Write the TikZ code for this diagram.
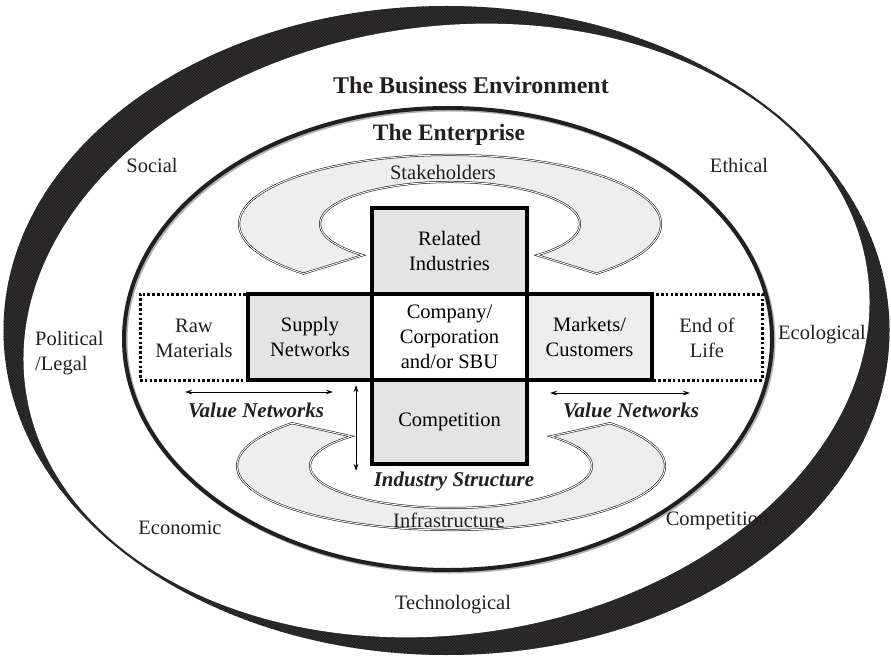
\documentclass[tikz,border=0pt]{standalone}
\usepackage{fontspec}
\setmainfont{Liberation Serif}
\usetikzlibrary{arrows.meta,patterns}
\definecolor{ringc}{HTML}{231F20}
\definecolor{bandc}{HTML}{EEEEEF}
\definecolor{boxc}{HTML}{E4E4E5}
\definecolor{boxl}{HTML}{EEEEEF}
\begin{document}
\begin{tikzpicture}[x=1pt,y=1pt,
  lbl/.style={font=\fontsize{20.5}{25}\selectfont, align=center, inner sep=0pt, text=ringc},
  ttl/.style={font=\bfseries\fontsize{24}{28}\selectfont, inner sep=0pt, text=ringc},
  itl/.style={font=\bfseries\itshape\fontsize{21}{25}\selectfont, inner sep=0pt, text=ringc},
  band/.style={fill=bandc, draw=black, line width=0.5pt, double=white, double distance=1pt},
  cbox/.style={draw=black, line width=3.5pt, minimum height=86pt, anchor=south west, outer sep=0pt, inner sep=0pt, align=center, font=\fontsize{20.5}{25}\selectfont},
  dotbox/.style={draw=black, line width=3pt, dash pattern=on 2.6pt off 2.2pt, anchor=south west, outer sep=0pt, inner sep=0pt},
  dbl/.style={{Stealth[length=7pt,width=4.5pt]}-{Stealth[length=7pt,width=4.5pt]}, line width=0.8pt},
]
\useasboundingbox (0,0) rectangle (891,657);

% outer ring (business environment)
\fill[ringc] (446.5,326.5) ellipse [x radius=443, y radius=324.5];
\fill[pattern=north west lines, pattern color=black!78] (446.5,326.5) ellipse [x radius=443, y radius=324.5];
\fill[white, rotate around={8:(446.5,326.5)}] (446.5,326.5) ellipse [x radius=425, y radius=304];

% enterprise ellipse
\draw[line width=4pt, black!30] (449.5,316.5) ellipse [x radius=324, y radius=231];
\draw[line width=4pt, ringc] (448,318) ellipse [x radius=324, y radius=231];

% stakeholders band (top)
\path[band] (596.6,383.4) arc[start angle=-46, end angle=226, x radius=211, y radius=69]
  -- (363.0,401.8) arc[start angle=228, end angle=-48, x radius=130, y radius=42] -- cycle;
% infrastructure band (bottom)
\path[band] (292.0,233.8) arc[start angle=138, end angle=402, x radius=214, y radius=64]
  -- (550.7,220.7) arc[start angle=45, end angle=-225, x radius=141, y radius=42] -- cycle;

% value chain
\node[dotbox, minimum width=622pt, minimum height=86pt] (chain) at (140,277) {};
\node[cbox, fill=boxc, minimum width=155pt] (related) at (372,363) {Related\\Industries};
\node[cbox, fill=boxc, minimum width=155pt, minimum height=84pt] (compbox) at (372,193) {Competition};
\node[cbox, fill=boxc, minimum width=124pt] (supply) at (248,277) {Supply\\Networks};
\node[cbox, fill=boxl, minimum width=125pt] (markets) at (527,277) {Markets/\\Customers};
\node[cbox, fill=white, minimum width=155pt] (company) at (372,277) {Company/\\Corporation\\and/or SBU};
\node[lbl] (raw) at (194,319) {Raw\\Materials};
\node[lbl] (eol) at (707,319) {End of\\Life};

% arrows
\coordinate (vl1) at (185,265);
\coordinate (vl2) at (333,265);
\coordinate (vr1) at (550,264);
\coordinate (vr2) at (690,264);
\coordinate (vv1) at (356,272);
\coordinate (vv2) at (356,186);
\draw[dbl] (vl1) -- (vl2);
\draw[dbl] (vr1) -- (vr2);
\draw[dbl] (vv1) -- (vv2);

% titles and labels
\node[ttl] (be) at (471,572) {The Business Environment};
\node[ttl, font=\bfseries\fontsize{23.5}{28}\selectfont] (ent) at (449,522) {The Enterprise};
\node[lbl] (stake) at (443,485) {Stakeholders};
\node[lbl] (infra) at (449,137) {Infrastructure};
\node[itl] (vnl) at (256,247) {Value Networks};
\node[itl] (vnr) at (631,247) {Value Networks};
\node[itl] (is) at (454,176) {Industry Structure};
\node[lbl] (social) at (152,492) {Social};
\node[lbl] (ethical) at (739,492) {Ethical};
\node[lbl, align=left, anchor=west] (pol) at (35,304) {Political\\/Legal};
\node[lbl] (eco) at (822,322) {Ecological};
\node[lbl] (econ) at (180,129) {Economic};
\node[lbl] (compo) at (717,136) {Competition};
\node[lbl] (tech) at (453,52) {Technological};
\end{tikzpicture}
\end{document}
